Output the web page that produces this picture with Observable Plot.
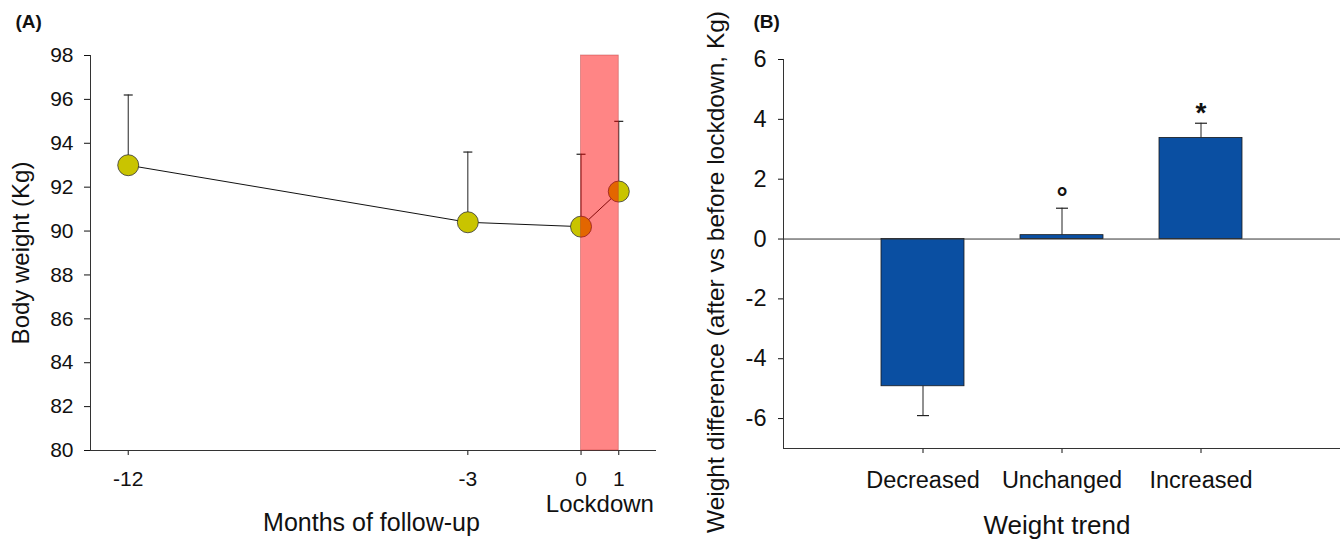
<!DOCTYPE html>
<html><head><meta charset="utf-8">
<script src="https://cdn.jsdelivr.net/npm/d3@7"></script>
<script src="https://cdn.jsdelivr.net/npm/@observablehq/plot@0.6"></script>
<style>
body{margin:0;background:#fff;}
#wrap{position:relative;width:1343px;height:539px;overflow:hidden;background:#fff;}
#a{position:absolute;left:0;top:0;}
#b{position:absolute;left:690px;top:0;}
</style></head><body><div id="wrap"><div id="a"></div><div id="b"></div></div>
<script>
// Panel A data
const months = [-12, -3, 0, 1];
const bodyWeight = [93.0, 90.4, 90.2, 91.8];
const bodyWeightUpper = [96.2, 93.6, 93.5, 95.0];
const monthTicks = [-12, -3, 0, 1];
const weightTicks = [80, 82, 84, 86, 88, 90, 92, 94, 96, 98];
const monthDomain = [-13, 2];
const weightDomain = [80, 98];
const lockdown = [0, 1];

// Panel B data
const trends = ["Decreased", "Unchanged", "Increased"];
const weightDiff = [-4.92, 0.13, 3.38];
const weightDiffErr = [-5.9, 1.03, 3.87];
const significance = ["", "°", "*"];
const diffTicks = [-6, -4, -2, 0, 2, 4, 6];
const diffDomain = [-7, 6];

const FONT = '"Liberation Sans", Arial, Helvetica, sans-serif';
const cap = {draw(ctx, size) { const w = Math.sqrt(size / Math.PI); ctx.moveTo(-w, 0); ctx.lineTo(w, 0); }};

const dataA = months.map((m, i) => ({m, w: bodyWeight[i], up: bodyWeightUpper[i]}));
const plotA = Plot.plot({
  width: 690, height: 539,
  marginLeft: 90, marginRight: 34, marginTop: 55, marginBottom: 89,
  style: {fontFamily: FONT, fontSize: "21px", color: "#111", background: "transparent", overflow: "visible"},
  x: {domain: monthDomain},
  y: {domain: weightDomain},
  marks: [
    Plot.axisY({ticks: weightTicks, tickSize: 6, tickPadding: 11, label: null, tickFormat: d => String(d)}),
    Plot.axisX({ticks: monthTicks, tickSize: 5, tickPadding: 16, label: null, tickFormat: d => String(d)}),
    Plot.ruleX([monthDomain[0]], {y1: weightDomain[0], y2: weightDomain[1], stroke: "#333"}),
    Plot.ruleY([weightDomain[0]], {stroke: "#333"}),
    Plot.line(dataA, {x: "m", y: "w", stroke: "#111", strokeWidth: 1}),
    Plot.ruleX(dataA, {x: "m", y1: "w", y2: "up", stroke: "#222", strokeWidth: 1}),
    Plot.dot(dataA, {x: "m", y: "up", symbol: cap, r: 4.5, fill: "none", stroke: "#222", strokeWidth: 1.2}),
    Plot.dot(dataA, {x: "m", y: "w", r: 10.5, fill: "#c9c400", stroke: "#333", strokeWidth: 0.8}),
    Plot.rect([{x1: lockdown[0], x2: lockdown[1]}], {x1: "x1", x2: "x2", y1: weightDomain[0], y2: weightDomain[1], fill: "#ff0000", fillOpacity: 0.48, stroke: "#b03030", strokeOpacity: 0.5, strokeWidth: 0.8}),
    Plot.text(["Lockdown"], {x: (lockdown[0] + lockdown[1]) / 2, frameAnchor: "bottom", dy: 61, lineAnchor: "bottom", fontSize: 24}),
    Plot.text(["Months of follow-up"], {frameAnchor: "bottom", dx: -2, dy: 80, lineAnchor: "bottom", fontSize: 25}),
    Plot.text(["Body weight (Kg)"], {frameAnchor: "left", textAnchor: "middle", rotate: -90, dx: -69, fontSize: 24}),
    Plot.text(["(A)"], {frameAnchor: "top-left", dx: -75, dy: -28, textAnchor: "start", lineAnchor: "bottom", fontWeight: "bold", fontSize: 19})
  ]
});
document.getElementById("a").append(plotA);

const dataB = trends.map((t, i) => ({t, v: weightDiff[i], e: weightDiffErr[i], s: significance[i]}));
const plotB = Plot.plot({
  width: 653, height: 539,
  marginLeft: 93, marginRight: 3, marginTop: 59, marginBottom: 91,
  style: {fontFamily: FONT, fontSize: "23.5px", color: "#111", background: "transparent", overflow: "visible"},
  x: {domain: trends, paddingInner: 0.404, paddingOuter: 0.702},
  y: {domain: diffDomain},
  marks: [
    Plot.axisY({ticks: diffTicks, tickSize: 5, tickPadding: 12, label: null, tickFormat: d => String(d)}),
    Plot.axisX({tickSize: 5, tickPadding: 18, label: null}),
    Plot.frame({anchor: "left", stroke: "#333"}),
    Plot.ruleY([diffDomain[0]], {stroke: "#333"}),
    Plot.barY(dataB, {x: "t", y1: 0, y2: "v", fill: "#0a4fa2", stroke: "#1a1a1a", strokeWidth: 0.8}),
    Plot.ruleY([0], {stroke: "#333"}),
    Plot.ruleX(dataB, {x: "t", y1: "v", y2: "e", stroke: "#222", strokeWidth: 1}),
    Plot.dot(dataB, {x: "t", y: "e", symbol: cap, r: 6, fill: "none", stroke: "#222", strokeWidth: 1.2}),
    Plot.text(dataB, {x: "t", y: "e", text: "s", lineAnchor: "bottom", dy: -1, fontSize: 28, fontWeight: "bold"}),
    Plot.text(["Weight trend"], {frameAnchor: "bottom", dx: -5, dy: 85, lineAnchor: "bottom", fontSize: 26}),
    Plot.text(["Weight difference (after vs before lockdown, Kg)"], {frameAnchor: "left", textAnchor: "middle", rotate: -90, dx: -67, dy: 18, fontSize: 24.5}),
    Plot.text(["(B)"], {frameAnchor: "top-left", dx: -30, dy: -32, textAnchor: "start", lineAnchor: "bottom", fontWeight: "bold", fontSize: 19})
  ]
});
document.getElementById("b").append(plotB);
</script>
</body></html>
